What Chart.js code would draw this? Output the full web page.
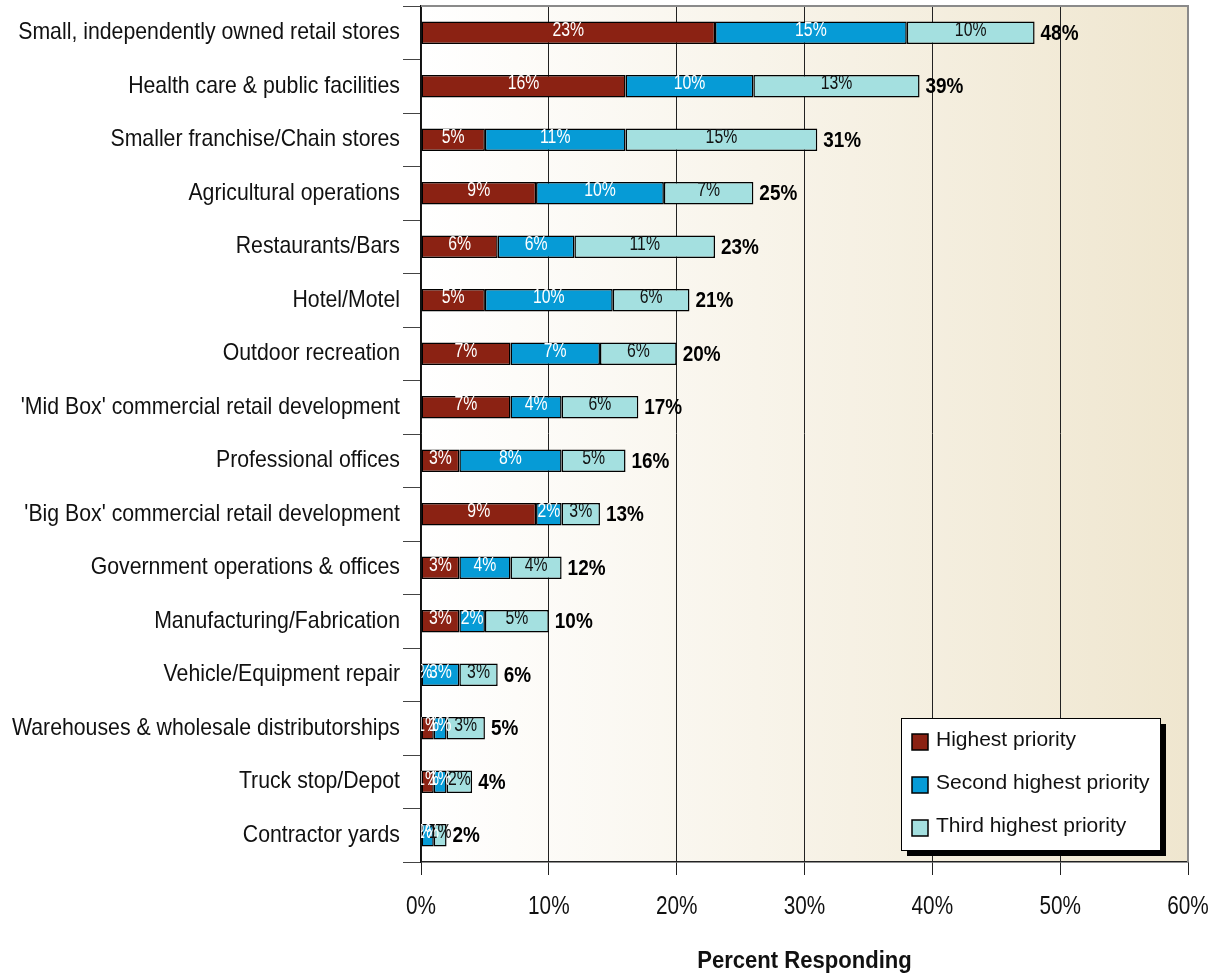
<!DOCTYPE html>
<html>
<head>
<meta charset="utf-8">
<script src="https://cdn.jsdelivr.net/npm/chart.js@4.4.0/dist/chart.umd.min.js"></script>
<style>
html,body{margin:0;padding:0;background:#fff;}
#wrap{width:1215px;height:976px;position:relative;}
</style>
</head>
<body>
<div id="wrap"><canvas id="c" width="1215" height="976"></canvas></div>
<script>
const categories = [
  "Small, independently owned retail stores",
  "Health care & public facilities",
  "Smaller franchise/Chain stores",
  "Agricultural operations",
  "Restaurants/Bars",
  "Hotel/Motel",
  "Outdoor recreation",
  "'Mid Box' commercial retail development",
  "Professional offices",
  "'Big Box' commercial retail development",
  "Government operations & offices",
  "Manufacturing/Fabrication",
  "Vehicle/Equipment repair",
  "Warehouses & wholesale distributorships",
  "Truck stop/Depot",
  "Contractor yards"
];
const highest = [23, 16, 5, 9, 6, 5, 7, 7, 3, 9, 3, 3, 0, 1, 1, 0];
const second  = [15, 10, 11, 10, 6, 10, 7, 4, 8, 2, 4, 2, 3, 1, 1, 1];
const third   = [10, 13, 15, 7, 11, 6, 6, 6, 5, 3, 4, 5, 3, 3, 2, 1];
const totalLabels = ["48%","39%","31%","25%","23%","21%","20%","17%","16%","13%","12%","10%","6%","5%","4%","2%"];
const seriesNames = ["Highest priority", "Second highest priority", "Third highest priority"];
const xTicks = [0, 10, 20, 30, 40, 50, 60];

const FONT = "'Liberation Sans', Arial, sans-serif";
const colors = ["#8B2213", "#069BD6", "#A4E0E0"];
const labelColors = ["#ffffff", "#ffffff", "#111111"];

// horizontal condensing of text (the reference uses a narrow face), keyed by font size
const SCALE = { 24: 0.886, 25: 0.83, 20: 0.79, 22: 0.86, 23: 0.96 };
(function () {
  const proto = CanvasRenderingContext2D.prototype;
  const orig = proto.fillText;
  proto.fillText = function (t, x, y, mw) {
    const m = /(\d+(?:\.\d+)?)px/.exec(this.font);
    const sx = m ? (SCALE[Math.round(+m[1])] || 1) : 1;
    if (sx === 1) {
      return mw === undefined ? orig.call(this, t, x, y) : orig.call(this, t, x, y, mw);
    }
    this.save();
    this.translate(x, y);
    this.scale(sx, 1);
    orig.call(this, t, 0, 0);
    this.restore();
  };
})();

const bgPlugin = {
  id: 'bg',
  beforeDraw(chart) {
    const {ctx, chartArea: a} = chart;
    const g = ctx.createLinearGradient(a.left, 0, a.right, 0);
    g.addColorStop(0, '#ffffff');
    g.addColorStop(1, '#EFE6CF');
    ctx.save();
    ctx.fillStyle = g;
    ctx.fillRect(a.left, a.top, a.right - a.left, a.bottom - a.top);
    ctx.restore();
  },
  afterDraw(chart) {
    const {ctx, chartArea: a} = chart;
    ctx.save();
    ctx.strokeStyle = '#8a8a8a';
    ctx.lineWidth = 2;
    ctx.beginPath();
    ctx.moveTo(a.left, a.top);
    ctx.lineTo(a.right, a.top);
    ctx.lineTo(a.right, a.bottom);
    ctx.stroke();
    ctx.restore();
  }
};

const labelPlugin = {
  id: 'barLabels',
  afterDatasetsDraw(chart) {
    const {ctx, chartArea: a} = chart;
    ctx.save();
    ctx.beginPath();
    ctx.rect(a.left, a.top, a.right - a.left, a.bottom - a.top);
    ctx.clip();
    ctx.textAlign = 'center';
    ctx.textBaseline = 'middle';
    ctx.font = "20px " + FONT;
    chart.data.datasets.forEach((ds, di) => {
      const meta = chart.getDatasetMeta(di);
      meta.data.forEach((bar, i) => {
        const cx = (bar.x + bar.base) / 2;
        ctx.fillStyle = labelColors[di];
        ctx.fillText(Math.round(ds.data[i]) + '%', cx, bar.y - 2.5);
      });
    });
    ctx.restore();
    // totals
    ctx.save();
    ctx.font = "bold 22px " + FONT;
    ctx.fillStyle = '#000';
    ctx.textAlign = 'left';
    ctx.textBaseline = 'middle';
    const last = chart.getDatasetMeta(chart.data.datasets.length - 1);
    last.data.forEach((bar, i) => {
      ctx.fillText(totalLabels[i], bar.x + 6, bar.y + 1);
    });
    ctx.restore();
  }
};

const legendPlugin = {
  id: 'boxLegend',
  afterDraw(chart) {
    const {ctx} = chart;
    const x = 901, y = 718, w = 259, h = 132;
    ctx.save();
    ctx.fillStyle = '#000';
    ctx.fillRect(x + 6, y + 6, w, h);
    ctx.fillStyle = '#fff';
    ctx.fillRect(x, y, w, h);
    ctx.strokeStyle = '#000';
    ctx.lineWidth = 1;
    ctx.strokeRect(x + 0.5, y + 0.5, w, h);
    ctx.font = "21px " + FONT;
    ctx.textBaseline = 'middle';
    ctx.textAlign = 'left';
    chart.data.datasets.forEach((ds, i) => {
      const cy = y + 22 + i * 43;
      ctx.fillStyle = ds.backgroundColor;
      ctx.fillRect(x + 11, cy - 6, 16, 16);
      ctx.strokeStyle = '#000';
      ctx.lineWidth = 1.5;
      ctx.strokeRect(x + 11, cy - 6, 16, 16);
      ctx.fillStyle = '#111';
      ctx.fillText(ds.label, x + 35, cy);
    });
    ctx.restore();
  }
};

const datasets = [highest, second, third].map((d, i) => ({
  label: seriesNames[i],
  data: d,
  backgroundColor: colors[i],
  borderColor: '#000',
  borderWidth: 1.5,
  borderSkipped: false,
  barPercentage: 0.42,
  categoryPercentage: 1.0
}));

new Chart(document.getElementById('c'), {
  type: 'bar',
  data: { labels: categories, datasets },
  plugins: [bgPlugin, labelPlugin, legendPlugin],
  options: {
    indexAxis: 'y',
    responsive: false,
    animation: false,
    layout: { padding: { top: 6, right: 27, left: 0, bottom: 0 } },
    plugins: { legend: { display: false }, tooltip: { enabled: false } },
    scales: {
      x: {
        stacked: true,
        min: xTicks[0],
        max: xTicks[xTicks.length - 1],
        afterBuildTicks(scale) { scale.ticks = xTicks.map(v => ({ value: v })); },
        afterFit(scale) {
          scale.height = 114;
          scale.paddingLeft = 0; scale.paddingRight = 0;
          scale.paddingTop = 0; scale.paddingBottom = 0;
        },
        ticks: {
          callback: v => v + '%',
          font: { family: FONT, size: 25 },
          color: '#111',
          padding: 17,
          maxRotation: 0
        },
        grid: {
          color: ctx => (ctx.tick && ctx.tick.value === 60) ? '#8a8a8a' : '#222',
          lineWidth: 1,
          drawTicks: true,
          tickLength: 13,
          tickColor: '#222'
        },
        border: { display: true, color: '#222', width: 1.5 },
        title: {
          display: true,
          text: 'Percent Responding',
          font: { family: FONT, size: 23, weight: 'bold' },
          color: '#111',
          padding: { top: 0, bottom: 1 }
        }
      },
      y: {
        stacked: true,
        afterFit(scale) {
          scale.width = 421;
          scale.paddingTop = 0; scale.paddingBottom = 0;
          scale.paddingLeft = 0; scale.paddingRight = 0;
        },
        ticks: {
          font: { family: FONT, size: 24 },
          color: '#111',
          padding: 3,
          autoSkip: false
        },
        grid: {
          drawOnChartArea: false,
          drawTicks: true,
          tickLength: 18,
          color: '#444',
          offset: true
        },
        border: { display: true, color: '#111', width: 1.5 }
      }
    }
  }
});
</script>
</body>
</html>
